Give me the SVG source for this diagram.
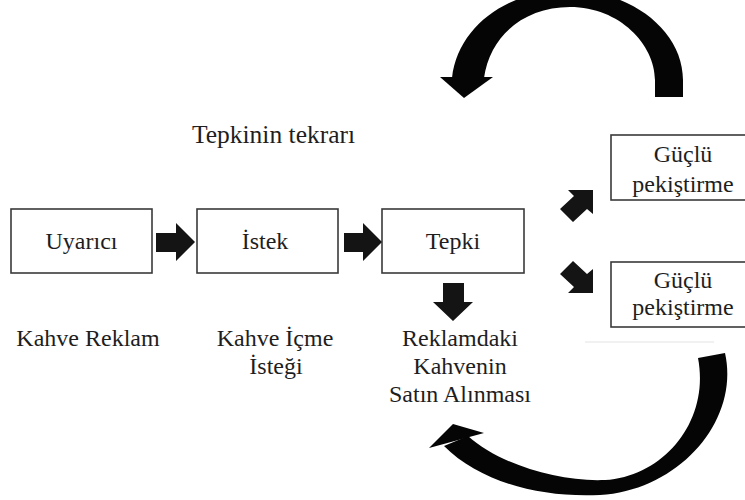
<svg xmlns="http://www.w3.org/2000/svg" width="745" height="500" viewBox="0 0 745 500">
<style>
.box{fill:#fff;stroke:#3a3a3a;stroke-width:1.6}
.t{font-family:'Liberation Serif','DejaVu Serif',serif;font-size:24px;fill:#1e1e1e;text-anchor:middle}
.arr{fill:#141414;stroke:none}
.arc{fill:#050505;stroke:none}
</style>
<rect width="745" height="500" fill="#fff"/>
<g id="title"><text class="t" font-family="Liberation Serif, serif" x="273.5" y="143" style="font-size:25.5px">Tepkinin tekrarı</text></g>
<g id="node-uyarici">
<rect class="box" x="11" y="209" width="141" height="64"/>
<text class="t" font-family="Liberation Serif, serif" x="81.5" y="249">Uyarıcı</text>
</g>
<g id="node-istek">
<rect class="box" x="197" y="209" width="141" height="64"/>
<text class="t" font-family="Liberation Serif, serif" x="265" y="249">İstek</text>
</g>
<g id="node-tepki">
<rect class="box" x="382" y="209" width="142" height="64"/>
<text class="t" font-family="Liberation Serif, serif" x="453" y="249">Tepki</text>
</g>
<g id="node-guclu1">
<rect class="box" x="611" y="135" width="160" height="65"/>
<text class="t" font-family="Liberation Serif, serif" x="683" y="162">Güçlü</text>
<text class="t" font-family="Liberation Serif, serif" x="683" y="192">pekiştirme</text>
</g>
<g id="node-guclu2">
<rect class="box" x="611" y="262" width="160" height="65"/>
<text class="t" font-family="Liberation Serif, serif" x="683" y="288">Güçlü</text>
<text class="t" font-family="Liberation Serif, serif" x="683" y="315">pekiştirme</text>
</g>
<line x1="585" y1="342" x2="714" y2="342" stroke="#ececec" stroke-width="1.5"/>
<g id="labels">
<text class="t" font-family="Liberation Serif, serif" x="88" y="346">Kahve Reklam</text>
<text class="t" font-family="Liberation Serif, serif" x="275" y="346">Kahve İçme</text>
<text class="t" font-family="Liberation Serif, serif" x="276" y="374">İsteği</text>
<text class="t" font-family="Liberation Serif, serif" x="460" y="346">Reklamdaki</text>
<text class="t" font-family="Liberation Serif, serif" x="460" y="374">Kahvenin</text>
<text class="t" font-family="Liberation Serif, serif" x="460" y="402">Satın Alınması</text>
</g>
<g id="connectors">
<polygon class="arr" points="156,233 176,233 176,223 195,242 176,261 176,252 156,252"/>
<polygon class="arr" points="344,233 363,233 363,223 382,242 363,261 363,252 344,252"/>
<polygon class="arr" points="443,283 464,283 464,302 473,302 453,321 433,302 443,302"/>
<polygon class="arr" points="593,190 568,190 574,196 560,209 573,222 587,209 593,214"/>
<polygon class="arr" points="593,293 568,293 574,287 560,274 573,261 587,274 593,269"/>
<path class="arc" d="M683,97 L683,80 C683,30 630,-10 568,-10 C510,-10 458,25 452,78 L484,78 C490,35 525,7 570,7 C620,7 655,45 655,80 L655,97 Z"/>
<polygon class="arc" points="440,77 493,77 464,98"/>
<path class="arc" d="M725,353 C740,420 680,490 600,495 C540,498 480,482 444,446 L468,436 C500,465 560,482 605,480 C665,476 710,420 698,358 Z"/>
<polygon class="arc" points="453,424 484,433 429,448"/>
</g>
</svg>
